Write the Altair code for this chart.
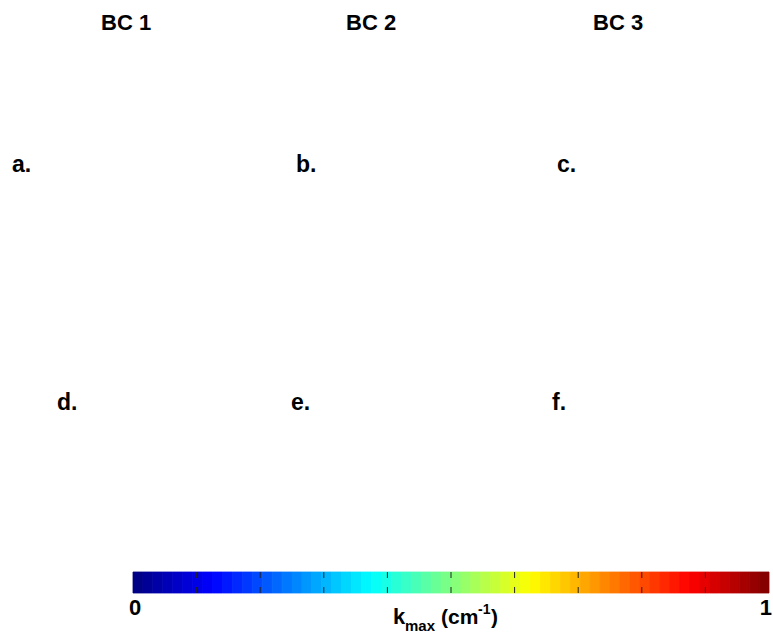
import altair as alt
import pandas as pd

# ---------------- data ----------------
column_titles = ["BC 1", "BC 2", "BC 3"]
panel_letters = ["a.", "b.", "c.", "d.", "e.", "f."]
colorbar_min = 0.0
colorbar_max = 1.0
colorbar_bins = 64
colorbar_tick_values = [0.1, 0.2, 0.3, 0.4, 0.5, 0.6, 0.7, 0.8, 0.9]
colorbar_end_labels = ["0", "1"]

# ---------------- layout (pixel positions, styling only) ----------------
W, H = 773, 637
FONT = "Liberation Sans"
title_pos = [(101, 30), (346, 30), (593, 30)]
letter_pos = [(12, 172), (296, 172), (557, 172), (57, 410), (291, 410), (552, 410)]
BAR_X0, BAR_X1 = 133, 769
BAR_Y0, BAR_Y1 = 572, 593


def jet(t):
    def clip(v):
        return max(0.0, min(1.0, v))
    r = clip(1.5 - abs(4 * t - 3))
    g = clip(1.5 - abs(4 * t - 2))
    b = clip(1.5 - abs(4 * t - 1))
    return "#{:02x}{:02x}{:02x}".format(int(round(r * 255)), int(round(g * 255)), int(round(b * 255)))


step = (colorbar_max - colorbar_min) / colorbar_bins
bar_df = pd.DataFrame({
    "k0": [colorbar_min + i * step for i in range(colorbar_bins)],
    "k1": [colorbar_min + (i + 1) * step for i in range(colorbar_bins)],
    "bin": list(range(colorbar_bins)),
})
bin_colors = [jet((i + 0.5) / colorbar_bins) for i in range(colorbar_bins)]
bin_scale = alt.Scale(domain=list(range(colorbar_bins)), range=bin_colors)

xscale = alt.Scale(domain=[colorbar_min, colorbar_max], range=[BAR_X0, BAR_X1], nice=False, zero=False)

bar = alt.Chart(bar_df).mark_rect(strokeWidth=0.8).encode(
    x=alt.X("k0:Q", scale=xscale, axis=None),
    x2="k1:Q",
    y=alt.value(BAR_Y0),
    y2=alt.value(BAR_Y1),
    color=alt.Color("bin:O", scale=bin_scale, legend=None),
    stroke=alt.Stroke("bin:O", scale=bin_scale, legend=None),
)

ticks = alt.Chart(pd.DataFrame({"k": colorbar_tick_values})).mark_rule(
    color="#222222", strokeWidth=1, strokeDash=[6, 9]
).encode(
    x=alt.X("k:Q", scale=xscale, axis=None),
    y=alt.value(BAR_Y0),
    y2=alt.value(BAR_Y1),
)

end_df = pd.DataFrame({"k": [colorbar_min, colorbar_max], "lab": colorbar_end_labels})
end0 = alt.Chart(end_df.iloc[[0]]).mark_text(
    font=FONT, fontWeight="bold", fontSize=22, align="center", baseline="alphabetic", dx=2, color="black"
).encode(x=alt.X("k:Q", scale=xscale, axis=None), y=alt.value(615), text="lab:N")
end1 = alt.Chart(end_df.iloc[[1]]).mark_text(
    font=FONT, fontWeight="bold", fontSize=22, align="right", baseline="alphabetic", dx=3, color="black"
).encode(x=alt.X("k:Q", scale=xscale, axis=None), y=alt.value(615), text="lab:N")

base = alt.Chart(pd.DataFrame({"d": [0]}))


def label(txt, x, y, size, weight="bold"):
    return base.mark_text(
        font=FONT, fontWeight=weight, fontSize=size, align="left", baseline="alphabetic", color="black"
    ).encode(x=alt.value(x), y=alt.value(y), text=alt.value(txt))


layers = [bar, ticks, end0, end1]
for t, (x, y) in zip(column_titles, title_pos):
    layers.append(label(t, x, y, 22))
for t, (x, y) in zip(panel_letters, letter_pos):
    layers.append(label(t, x, y, 23))

# colorbar title: k_max (cm^-1)
layers += [
    label("k", 393, 624, 22),
    label("max", 405, 631, 15),
    label("(cm", 441, 624, 21),
    label("-1", 478, 614, 14),
    label(")", 491, 624, 21),
]

chart = alt.layer(*layers).properties(
    width=W, height=H, autosize="none", padding=0, background="white"
).configure_view(stroke=None)

chart.save("out.html", embed_options={"renderer": "svg", "actions": False})
